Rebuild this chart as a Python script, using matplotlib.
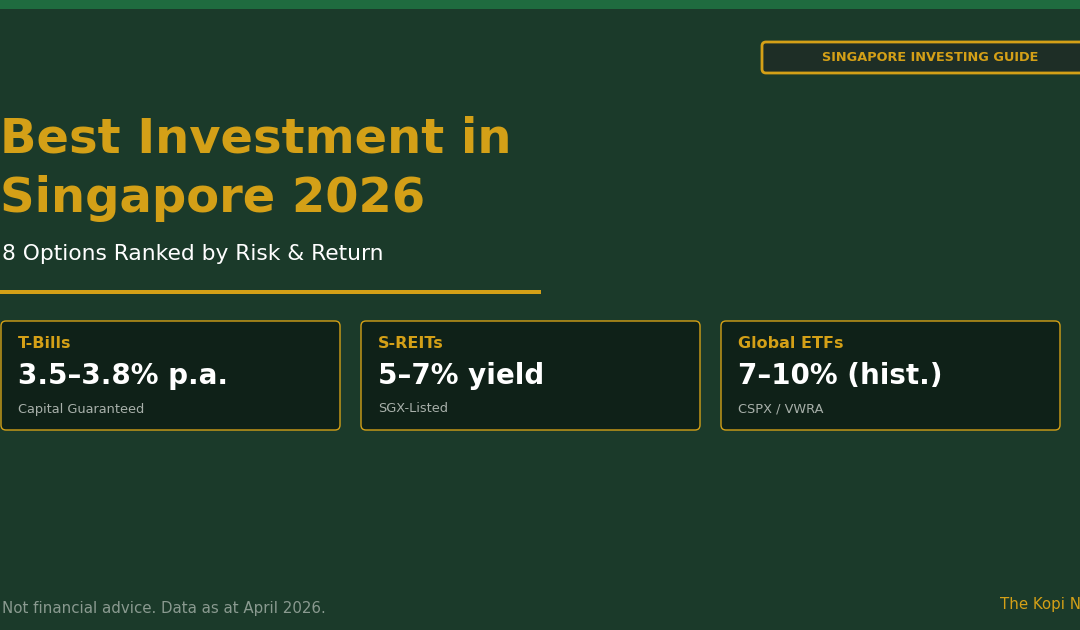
import matplotlib.pyplot as plt
from matplotlib.patches import FancyBboxPatch, Rectangle

plt.rcParams["font.family"] = ["DejaVu Sans"]

# card content
card_names = ["T-Bills", "S-REITs", "Global ETFs"]
card_values = ["3.5–3.8% p.a.", "5–7% yield", "7–10% (hist.)"]
card_notes = ["Capital Guaranteed", "SGX-Listed", "CSPX / VWRA"]

title_lines = ["Best Investment in", "Singapore 2026"]
subtitle = "8 Options Ranked by Risk & Return"
badge = "SINGAPORE INVESTING GUIDE"
footer_left = "Not financial advice. Data as at April 2026."
footer_right = "The Kopi N"

BG = "#1b3a2a"
GOLD = "#d4a017"
CARD = "#0f2118"

W, H = 1080, 630
fig = plt.figure(figsize=(W / 100, H / 100), dpi=100)
fig.patch.set_facecolor(BG)
ax = fig.add_axes([0, 0, 1, 1])
ax.set_xlim(0, W)
ax.set_ylim(H, 0)
ax.axis("off")
ax.set_facecolor(BG)

# top strip
ax.add_patch(Rectangle((0, 0), W, 9, facecolor="#1f6b3f", edgecolor="none"))

# badge
ax.add_patch(FancyBboxPatch((762, 42), 340, 31,
                            boxstyle="round,pad=0,rounding_size=4",
                            facecolor="#1e2e26", edgecolor=GOLD, linewidth=2))
ax.text(930, 57.5, badge, color=GOLD, fontsize=9.3, fontweight="bold",
        ha="center", va="center")

# title block
ax.text(0, 139, title_lines[0], color=GOLD, fontsize=34.6, fontweight="bold",
        ha="left", va="center")
ax.text(0, 199, title_lines[1], color=GOLD, fontsize=34.6, fontweight="bold",
        ha="left", va="center")
ax.text(2, 254, subtitle, color="white", fontsize=15.7, ha="left", va="center")
ax.add_patch(Rectangle((0, 289.5), 541, 4, facecolor=GOLD, edgecolor="none"))

# cards
for i, (name, val, note) in enumerate(zip(card_names, card_values, card_notes)):
    x0 = 1 + 360 * i
    ax.add_patch(FancyBboxPatch((x0, 321), 339, 109,
                                boxstyle="round,pad=0,rounding_size=5",
                                facecolor=CARD, edgecolor=GOLD, linewidth=1))
    ax.text(x0 + 17, 343, name, color=GOLD, fontsize=11.5, fontweight="bold",
            ha="left", va="center")
    ax.text(x0 + 17, 376, val, color="white", fontsize=20, fontweight="bold",
            ha="left", va="center")
    ax.text(x0 + 17, 409, note, color="#a8b0aa", fontsize=9.3,
            ha="left", va="center")

# footer
ax.text(2, 609, footer_left, color="#8a9a90", fontsize=10.8, ha="left", va="center")
ax.text(1000, 605, footer_right, color=GOLD, fontsize=10.8, ha="left", va="center")

fig.savefig("out.png", dpi=100, facecolor=BG)
